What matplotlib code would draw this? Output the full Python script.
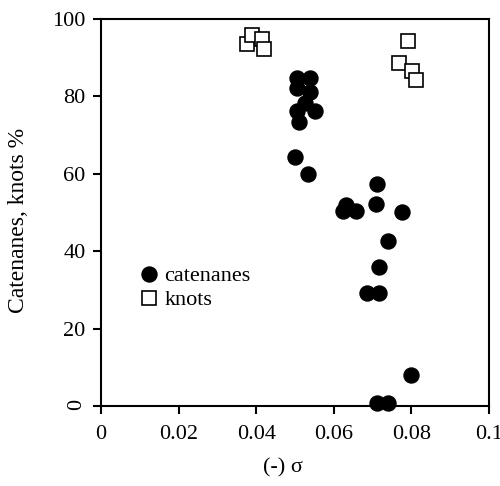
import matplotlib
matplotlib.use("Agg")
import matplotlib.pyplot as plt

# values
cat_sigma = [0.0505, 0.0539, 0.0505, 0.0539, 0.0526, 0.0505, 0.0552, 0.0510,
             0.0500, 0.0533, 0.0711, 0.0631, 0.0623, 0.0657, 0.0709, 0.0776,
             0.0740, 0.0716, 0.0686, 0.0716, 0.0711, 0.0740, 0.0799]
cat_pct = [84.8, 84.8, 82.2, 81.1, 78.3, 76.2, 76.2, 73.4,
           64.3, 60.0, 57.4, 52.0, 50.4, 50.4, 52.2, 50.1,
           42.6, 35.9, 29.2, 29.2, 0.8, 0.8, 8.0]
knot_sigma = [0.0376, 0.0389, 0.0415, 0.0420, 0.0768, 0.0791, 0.0802, 0.0812]
knot_pct = [93.5, 95.9, 94.8, 92.2, 88.6, 94.3, 86.6, 84.2]

x_ticks = [0, 0.02, 0.04, 0.06, 0.08, 0.1]
x_labels = ["0", "0.02", "0.04", "0.06", "0.08", "0.1"]
y_ticks = [0, 20, 40, 60, 80, 100]
y_labels = ["0", "20", "40", "60", "80", "100"]

plt.rcParams['font.family'] = ['Liberation Serif', 'DejaVu Serif']
plt.rcParams['font.size'] = 16

fig = plt.figure(figsize=(5, 4.86), dpi=100)
ax = fig.add_axes([0.202, 0.1646, 0.776, 0.7963])

ax.plot(knot_sigma, knot_pct, linestyle='none', marker='s', markersize=9.4,
        markerfacecolor='white', markeredgecolor='black', markeredgewidth=1.2,
        label='knots', clip_on=False, zorder=3)
ax.plot(cat_sigma, cat_pct, linestyle='none', marker='o', markersize=10.8,
        color='black', label='catenanes', clip_on=False, zorder=4)

ax.set_xlim(0, 0.1)
ax.set_ylim(0, 100)
ax.set_xticks(x_ticks, x_labels)
ax.set_yticks(y_ticks, y_labels)
ax.get_yticklabels()[0].set_rotation(90)
ax.tick_params(direction='out', length=6, width=1.5, pad=5)
ax.tick_params(axis='x', pad=8)
for s in ax.spines.values():
    s.set_linewidth(1.5)

ax.set_xlabel('(-) σ')
ax.set_ylabel('Catenanes, knots %', fontsize=17)
ax.yaxis.set_label_coords(-0.185, 0.48)
ax.xaxis.set_label_coords(0.47, -0.135)

h, l = ax.get_legend_handles_labels()
ax.legend(h[::-1], l[::-1], loc='upper left', bbox_to_anchor=(0.1, 0.362),
          frameon=False, handlelength=0.8, handletextpad=0.3,
          labelspacing=0.15, borderpad=0, borderaxespad=0)

plt.savefig('out.png', dpi=100)
plt.close()
